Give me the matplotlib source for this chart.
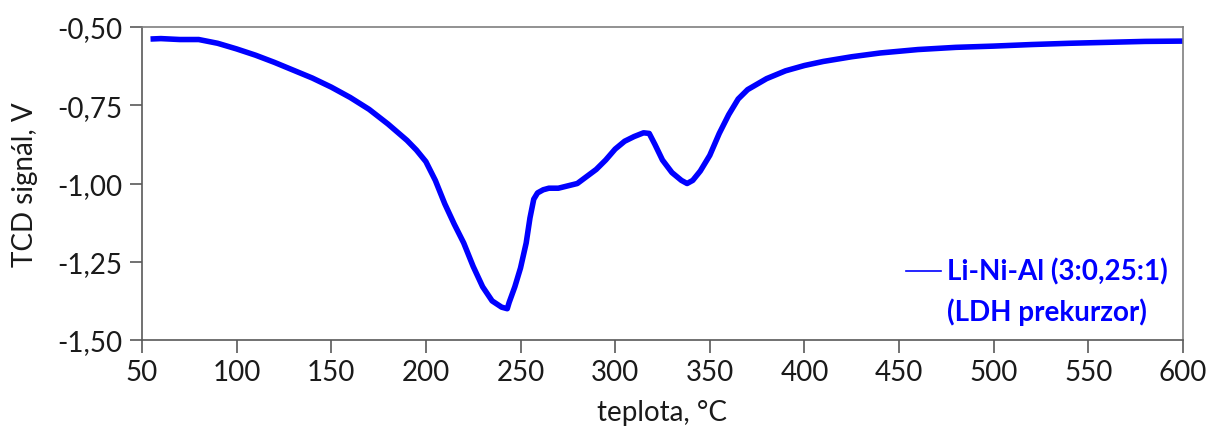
import matplotlib
matplotlib.use("Agg")
import matplotlib.pyplot as plt
from matplotlib.ticker import FuncFormatter

temperature = [56, 60, 70, 80, 90, 100, 110, 120, 130, 140, 150, 160, 170, 180, 190, 195,
               200, 205, 210, 215, 220, 225, 230, 235, 240, 243, 244, 247, 250, 253, 255,
               257, 259, 262, 265, 270, 280, 290, 295, 300, 305, 310, 315, 318, 321, 325,
               330, 335, 338, 341, 345, 350, 355, 360, 365, 370, 380, 390, 400, 410, 425,
               440, 460, 480, 500, 520, 540, 560, 580, 600]
tcd_signal = [-0.538, -0.537, -0.540, -0.540, -0.552, -0.570, -0.590, -0.613, -0.638, -0.663,
              -0.692, -0.725, -0.763, -0.810, -0.862, -0.893, -0.930, -0.990, -1.065, -1.130,
              -1.190, -1.265, -1.330, -1.375, -1.395, -1.400, -1.380, -1.330, -1.270, -1.190,
              -1.110, -1.050, -1.030, -1.020, -1.015, -1.015, -1.000, -0.955, -0.925, -0.890,
              -0.865, -0.850, -0.838, -0.840, -0.875, -0.925, -0.965, -0.990, -1.000, -0.990,
              -0.960, -0.910, -0.840, -0.780, -0.730, -0.700, -0.665, -0.640, -0.623, -0.610,
              -0.595, -0.583, -0.572, -0.565, -0.561, -0.556, -0.552, -0.549, -0.546, -0.545]
series_label_lines = ["Li-Ni-Al (3:0,25:1)", "(LDH prekurzor)"]
x_ticks = [50, 100, 150, 200, 250, 300, 350, 400, 450, 500, 550, 600]
y_ticks = [-1.50, -1.25, -1.00, -0.75, -0.50]

plt.rcParams['font.family'] = ['Lato', 'DejaVu Sans']

fig = plt.figure(figsize=(12.08, 4.39), dpi=100)
ax = fig.add_axes([0.1175, 0.2232, 0.9793 - 0.1175, 0.9362 - 0.2232])

ax.plot(temperature, tcd_signal, color='#0000FF', lw=4, solid_joinstyle='round')

ax.set_xlim(50, 600)
ax.set_ylim(-1.5, -0.5)
ax.set_xticks(x_ticks)
ax.set_yticks(y_ticks)
ax.yaxis.set_major_formatter(FuncFormatter(lambda v, p: f"{v:.2f}".replace('.', ',')))

for s in ['left', 'bottom']:
    ax.spines[s].set_color('#595959')
    ax.spines[s].set_linewidth(1.2)
for s in ['top', 'right']:
    ax.spines[s].set_color('#7f7f7f')
    ax.spines[s].set_linewidth(1.2)

ax.tick_params(axis='both', direction='out', length=9, width=1.2, color='#595959',
               labelsize=20, labelcolor='#1a1a1a', pad=5)

ax.set_xlabel('teplota, °C', fontsize=20, labelpad=10, color='#1a1a1a')
ax.set_ylabel('TCD signál, V', fontsize=20, labelpad=14, color='#1a1a1a')

# legend (drawn manually so the handle sits on the first line)
ax.plot([0.734, 0.768], [0.2204, 0.2204], transform=ax.transAxes, color='#0000FF', lw=1.2)
ax.text(0.773, 0.2204, series_label_lines[0], transform=ax.transAxes, color='#0000FF',
        fontsize=20, fontweight='bold', va='center', ha='left')
ax.text(0.773, 0.0927, series_label_lines[1], transform=ax.transAxes, color='#0000FF',
        fontsize=20, fontweight='bold', va='center', ha='left')

fig.savefig('out.png', dpi=100)
